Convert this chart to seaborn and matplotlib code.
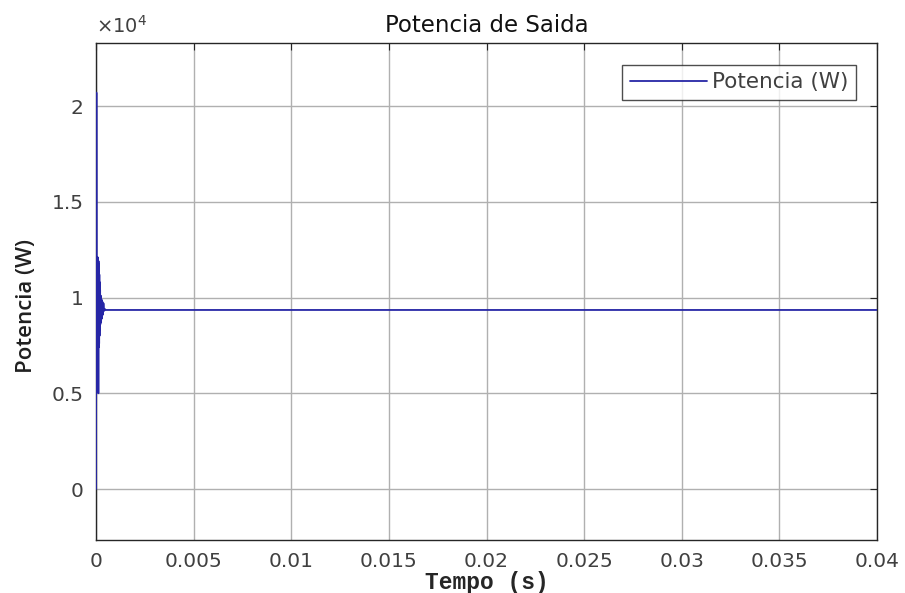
import numpy as np
import pandas as pd
import seaborn as sns
import matplotlib.pyplot as plt
from matplotlib.ticker import FuncFormatter

# Transitório inicial e regime permanente
tempo = [0.0, 0.00002, 0.00004, 0.00005, 0.00006, 0.00007, 0.00008, 0.00009,
         0.00010, 0.00011, 0.00012, 0.00013, 0.00014, 0.00015, 0.00016,
         0.00017, 0.00018, 0.00019, 0.00020, 0.00021, 0.00022, 0.00024,
         0.00026, 0.00028, 0.00030, 0.00032, 0.00035, 0.00038, 0.00041,
         0.00045, 0.00050, 0.04]
potencia = [0, 20700, 6800, 12100, 7000, 12000, 7100, 12100, 6900, 11800,
            5000, 11900, 7400, 11700, 7600, 11200, 8000, 10800, 8300, 10400,
            8600, 10100, 8700, 9900, 8900, 9800, 9100, 9700, 9300, 9400,
            9350, 9350]

y_ticks = [0, 5000, 10000, 15000, 20000]
x_ticks = [0, 0.005, 0.01, 0.015, 0.02, 0.025, 0.03, 0.035, 0.04]
x_labels = ["0", "0.005", "0.01", "0.015", "0.02", "0.025", "0.03", "0.035", "0.04"]

df = pd.DataFrame({"Tempo (s)": tempo, "Potencia (W)": potencia})

sns.set_style("white")
plt.rcParams['font.family'] = ['DejaVu Sans']

fig = plt.figure(figsize=(9.05, 5.93), dpi=100)
ax = fig.add_axes([0.1061, 0.0894, 0.8630, 0.8381])

sns.lineplot(data=df, x="Tempo (s)", y="Potencia (W)", ax=ax, color="#2626a6",
             linewidth=1.3, label="Potencia (W)", estimator=None, sort=False,
             zorder=5)

ax.set_xlim(0, 0.04)
ax.set_ylim(-2660, 23290)
ax.set_xticks(x_ticks)
ax.set_xticklabels(x_labels)
ax.set_yticks(y_ticks)
ax.yaxis.set_major_formatter(FuncFormatter(lambda v, p: f"{v / 1e4:g}"))

ax.grid(True, color="#b0b0b0", linewidth=1.0)
ax.tick_params(direction="in", length=5, colors="#262626", labelcolor="#404040",
               labelsize=14.5, top=True, right=True, pad=9)
for s in ax.spines.values():
    s.set_color("#262626")
    s.set_linewidth(1.0)

ax.set_title("Potencia de Saida", fontsize=16.5, color="#111111", pad=8)
ax.set_xlabel("Tempo (s)", family=["Liberation Mono"], fontweight="bold",
              fontsize=16.5, labelpad=0)
ax.set_ylabel("Potencia (W)", family=["Open Sans"], fontweight="semibold",
              fontsize=16, color="#202020")
ax.yaxis.set_label_coords(-0.075, 0.47)
ax.text(0.0, 1.012, r"$\times10^{4}$", transform=ax.transAxes, fontsize=14,
        color="#404040", ha="left", va="bottom")

leg = ax.legend(loc="upper right", fontsize=15.5, frameon=True, fancybox=False,
                handlelength=3.6, handletextpad=0.2, borderpad=0.35,
                borderaxespad=1.0)
leg.get_frame().set_edgecolor("#202020")
leg.get_frame().set_linewidth(1.0)
for t in leg.get_texts():
    t.set_color("#404040")

fig.savefig("out.png", dpi=100)
